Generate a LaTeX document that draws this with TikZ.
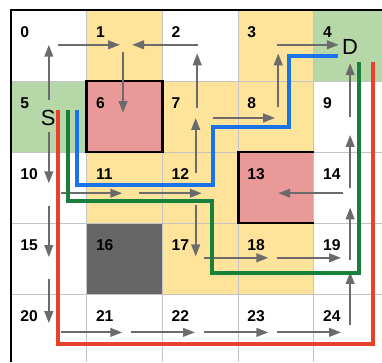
\documentclass[tikz,border=0pt]{standalone}
\usepackage{fontspec}
\setmainfont{Liberation Sans}
\usetikzlibrary{arrows.meta}
\definecolor{cellyel}{HTML}{FEE49B}
\definecolor{cellgrn}{HTML}{B6D7A8}
\definecolor{cellpnk}{HTML}{EA9999}
\definecolor{cellgry}{HTML}{666666}
\definecolor{gridgray}{HTML}{C4C4C4}
\definecolor{arrgray}{HTML}{6B6B6B}
\definecolor{pthblue}{HTML}{1A73E8}
\definecolor{pthgreen}{HTML}{188038}
\definecolor{pthred}{HTML}{E8412C}
\begin{document}
\begin{tikzpicture}[x=2.006cm, y=-1.8815cm,
    num/.style={font=\fontsize{11.8}{13}\selectfont\bfseries, inner sep=0pt, anchor=west},
    big/.style={font=\fontsize{16.5}{18}\selectfont, inner sep=0pt},
    gl/.style={draw=gridgray, line width=0.75pt},
    arr/.style={draw=arrgray, line width=1.5pt, -{Triangle[length=9pt,width=6.5pt]}},
    wall/.style={line width=2.2pt},
    pth/.style={line width=3pt}]
  \clip (-0.145,-0.141) rectangle (4.901,4.958);
  \fill[white] (-0.145,-0.141) rectangle (4.901,4.958);
  % cells
  \foreach \c/\r in {1/0,3/0,2/1,3/1,1/2,2/2,2/3,3/3} \fill[cellyel] (\c,\r) rectangle ++(1,1);
  \fill[cellgrn] (4,0) rectangle ++(1,1);  \fill[cellgrn] (0,1) rectangle ++(1,1);
  \fill[cellpnk] (1,1) rectangle ++(1,1);  \fill[cellpnk] (3,2) rectangle ++(1,1);
  \fill[cellgry] (1,3) rectangle ++(1,1);
  % grid
  \foreach \i in {1,...,4} {\draw[gl] (\i,0) -- (\i,4.958); \draw[gl] (0,\i) -- (4.901,\i);}
  % walls
  \draw[wall] (1,1) rectangle (2,2);
  \draw[wall] (4,2) -- (3,2) -- (3,3) -- (4,3);
  \draw[wall] (0,4.958) -- (0,0) -- (4.901,0);
  % cell numbers
  \foreach \n in {0,...,24} {
    \pgfmathtruncatemacro{\cc}{mod(\n,5)}
    \pgfmathtruncatemacro{\rr}{div(\n,5)}
    \node[num] (l\n) at (\cc+0.12,\rr+0.31) {\n};
  }
  \node[big] (start) at (0.49,1.52) {S};
  \node[big] (goal) at (4.48,0.52) {D};
  % moves
  \draw[arr] (0.50,1.27) -- (0.50,0.49);
  \draw[arr] (0.50,1.72) -- (0.50,2.44);
  \draw[arr] (0.50,2.76) -- (0.50,3.48);
  \draw[arr] (0.50,3.79) -- (0.50,4.41);
  \draw[arr] (1.48,0.59) -- (1.48,1.45);
  \draw[arr] (2.46,1.38) -- (2.46,0.61);
  \draw[arr] (2.44,2.30) -- (2.44,1.52);
  \draw[arr] (2.44,2.75) -- (2.44,3.47);
  \draw[arr] (3.53,1.37) -- (3.53,0.61);
  \draw[arr] (4.48,1.51) -- (4.48,0.75);
  \draw[arr] (4.48,2.51) -- (4.48,1.76);
  \draw[arr] (4.48,3.52) -- (4.48,2.78);
  \draw[arr] (4.48,4.44) -- (4.48,3.69);
  \draw[arr] (0.62,0.49) -- (1.44,0.49);
  \draw[arr] (2.47,0.49) -- (1.60,0.49);
  \draw[arr] (3.51,0.49) -- (4.33,0.49);
  \draw[arr] (2.67,1.52) -- (3.49,1.52);
  \draw[arr] (0.66,2.58) -- (1.47,2.58);
  \draw[arr] (1.69,2.58) -- (2.52,2.58);
  \draw[arr] (4.39,2.58) -- (3.53,2.58);
  \draw[arr] (2.55,3.49) -- (3.40,3.49);
  \draw[arr] (3.51,3.49) -- (4.36,3.49);
  \draw[arr] (0.66,4.54) -- (1.47,4.54);
  \draw[arr] (1.59,4.54) -- (2.43,4.54);
  \draw[arr] (2.55,4.54) -- (3.40,4.54);
  \draw[arr] (3.51,4.54) -- (4.36,4.54);
  % routes
  \draw[pth, pthblue] (0.872,1.41) -- (0.872,2.465) -- (2.668,2.465) -- (2.668,1.648)
    -- (3.672,1.648) -- (3.672,0.648) -- (4.32,0.648);
  \draw[pth, pthgreen] (0.753,1.41) -- (0.753,2.69) -- (2.655,2.69) -- (2.655,3.704)
    -- (4.597,3.704) -- (4.597,0.732);
  \draw[pth, pthred] (0.621,1.41) -- (0.621,4.71) -- (4.782,4.71) -- (4.782,0.732);
\end{tikzpicture}
\end{document}
